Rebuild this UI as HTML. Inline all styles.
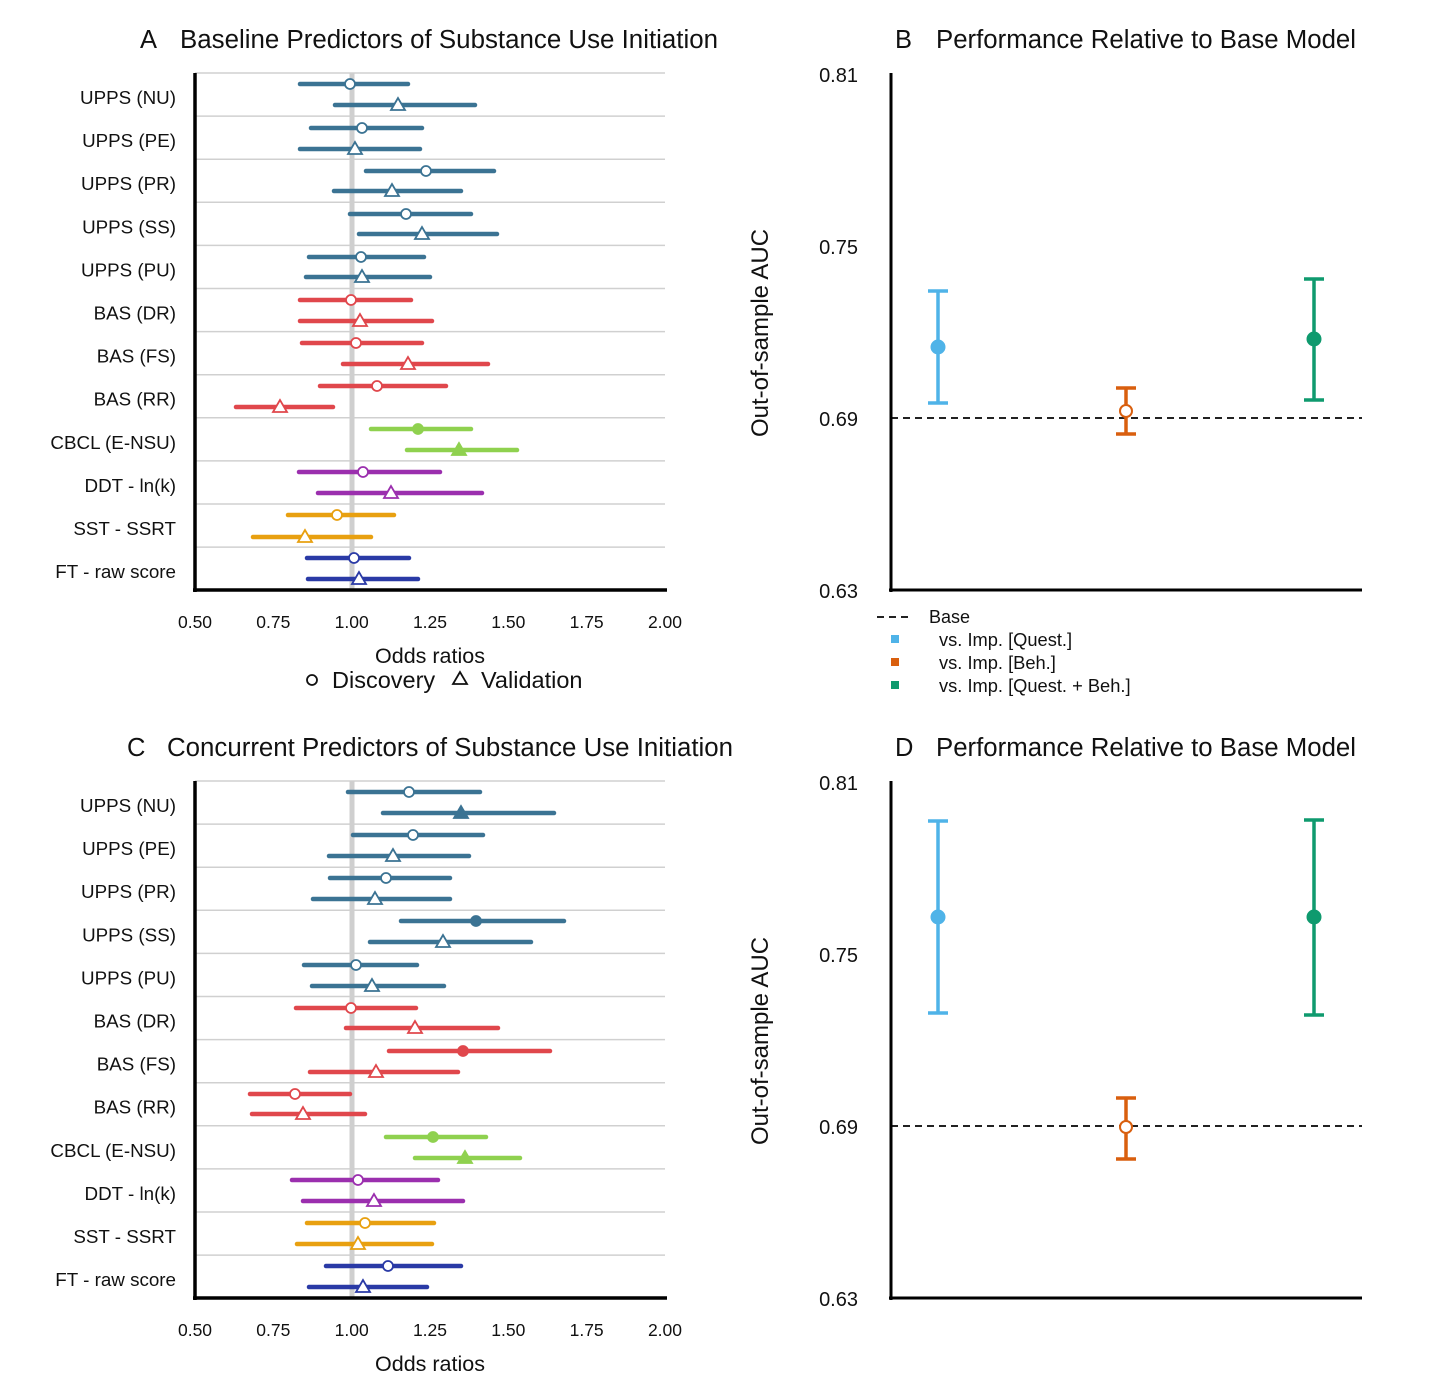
<!DOCTYPE html>
<html><head><meta charset="utf-8"><style>
body{margin:0;background:#fff;}
svg{display:block;font-family:"Liberation Sans",Arial,sans-serif;}
</style></head><body>
<svg width="1446" height="1384" viewBox="0 0 1446 1384" xmlns="http://www.w3.org/2000/svg">
<rect width="1446" height="1384" fill="#fff"/>
<script>
(function(){
const NS="http://www.w3.org/2000/svg";
const svg=document.querySelector('svg');
function el(t,a,txt){const e=document.createElementNS(NS,t);for(const k in a)e.setAttribute(k,a[k]);if(txt!==undefined)e.textContent=txt;svg.appendChild(e);return e;}
const C={u:"#3b7393",r:"#e0474c",g:"#8fd14f",p:"#9b2fae",o:"#e8a010",b:"#2a3aa6"};
const labels=["UPPS (NU)","UPPS (PE)","UPPS (PR)","UPPS (SS)","UPPS (PU)","BAS (DR)","BAS (FS)","BAS (RR)","CBCL (E-NSU)","DDT - ln(k)","SST - SSRT","FT - raw score"];
const cols=["u","u","u","u","u","r","r","r","g","p","o","b"];
const A=[[84,300,350,408,0],[105,335,398,475,0],[128,311,362,422,0],[149,300,355,420,0],[171,366,426,494,0],[191,334,392,461,0],[214,350,406,471,0],[234,359,422,497,0],[257,309,361,424,0],[277,306,362,430,0],[300,300,351,411,0],[321,300,360,432,0],[343,302,356,422,0],[364,343,408,488,0],[386,320,377,446,0],[407,236,280,333,0],[429,371,418,471,1],[450,407,459,517,1],[472,299,363,440,0],[493,318,391,482,0],[515,288,337,394,0],[537,253,305,371,0],[558,307,354,409,0],[579,308,359,418,0]];
const Cc=[[792,348,409,480,0],[813,383,461,554,1],[835,353,413,483,0],[856,329,393,469,0],[878,330,386,450,0],[899,313,375,450,0],[921,401,476,564,1],[942,370,443,531,0],[965,304,356,417,0],[986,312,372,444,0],[1008,296,351,416,0],[1028,346,415,498,0],[1051,389,463,550,1],[1072,310,376,458,0],[1094,250,295,350,0],[1114,252,303,365,0],[1137,386,433,486,1],[1158,415,465,520,1],[1180,292,358,438,0],[1201,303,374,463,0],[1223,307,365,434,0],[1244,297,358,432,0],[1266,326,388,461,0],[1287,309,363,427,0]];
function forest(oy,data,letter,title,lx,tx,tl){
  el('text',{x:lx,y:oy+48,'font-size':25.5,fill:'#111'},letter);
  el('text',{x:tx,y:oy+48,'font-size':25.5,fill:'#111',textLength:tl,lengthAdjust:'spacingAndGlyphs'},title);
  for(let i=0;i<=12;i++){const y=oy+73+i*43.1;el('line',{x1:195,x2:665,y1:y,y2:y,stroke:'#d0d0d0','stroke-width':1.5});}
  el('line',{x1:352,x2:352,y1:oy+73,y2:oy+590,stroke:'#cfcfcf','stroke-width':5});
  labels.forEach((l,i)=>el('text',{x:176,y:oy+104+i*43.1,'font-size':18.8,'text-anchor':'end',fill:'#111'},l));
  data.forEach((d,i)=>{const c=C[cols[Math.floor(i/2)]];const y=d[0];
    el('line',{x1:d[1],x2:d[3],y1:y,y2:y,stroke:c,'stroke-width':4.5,'stroke-linecap':'round'});
    const f=d[4]?c:'#fff';
    if(i%2==0) el('circle',{cx:d[2],cy:y,r:5,fill:f,stroke:c,'stroke-width':1.8});
    else el('polygon',{points:`${d[2]},${y-7} ${d[2]-7},${y+5} ${d[2]+7},${y+5}`,fill:f,stroke:c,'stroke-width':1.8});
  });
  el('line',{x1:195,x2:195,y1:oy+73,y2:oy+592,stroke:'#000','stroke-width':3.5});
  el('line',{x1:193,x2:667,y1:oy+590,y2:oy+590,stroke:'#000','stroke-width':3.5});
  ["0.50","0.75","1.00","1.25","1.50","1.75","2.00"].forEach((t,i)=>el('text',{x:195+i*78.33,y:oy+628,'font-size':17.5,'text-anchor':'middle',fill:'#111'},t));
  el('text',{x:430,y:oy+663,'font-size':21.5,'text-anchor':'middle',fill:'#111'},'Odds ratios');
}
forest(0,A,"A","Baseline Predictors of Substance Use Initiation",140,180,538);
forest(708,Cc,"C","Concurrent Predictors of Substance Use Initiation",127,167,566);
el('circle',{cx:312,cy:680,r:5,fill:'#fff',stroke:'#111','stroke-width':1.8});
el('text',{x:332,y:688,'font-size':23.5,fill:'#111'},'Discovery');
el('polygon',{points:'460,672 453,684 467,684',fill:'#fff',stroke:'#111','stroke-width':1.8});
el('text',{x:481,y:688,'font-size':23.5,fill:'#111'},'Validation');
function perf(oy,letter,title,pts){
  el('text',{x:895,y:oy+48,'font-size':25.5,fill:'#111'},letter);
  el('text',{x:936,y:oy+48,'font-size':25.5,fill:'#111',textLength:420,lengthAdjust:'spacingAndGlyphs'},title);
  [["0.81",75],["0.75",247],["0.69",419],["0.63",591]].forEach(t=>el('text',{x:858,y:oy+t[1]+7,'font-size':20,'text-anchor':'end',fill:'#111'},t[0]));
  el('text',{x:0,y:0,'font-size':24,'text-anchor':'middle',fill:'#111',transform:`translate(768,${oy+333}) rotate(-90)`},'Out-of-sample AUC');
  el('line',{x1:891,x2:1362,y1:oy+418,y2:oy+418,stroke:'#222','stroke-width':2,'stroke-dasharray':'7,5'});
  pts.forEach(p=>{const [x,t,b,m,c,h]=p;
    el('line',{x1:x,x2:x,y1:oy+t,y2:oy+b,stroke:c,'stroke-width':3.5});
    el('line',{x1:x-10,x2:x+10,y1:oy+t,y2:oy+t,stroke:c,'stroke-width':3.5});
    el('line',{x1:x-10,x2:x+10,y1:oy+b,y2:oy+b,stroke:c,'stroke-width':3.5});
    el('circle',{cx:x,cy:oy+m,r:h?6:6.5,fill:h?'#fff':c,stroke:c,'stroke-width':2});
  });
  el('line',{x1:891,x2:891,y1:oy+73,y2:oy+592,stroke:'#000','stroke-width':3});
  el('line',{x1:889,x2:1362,y1:oy+590,y2:oy+590,stroke:'#000','stroke-width':3});
}
perf(0,"B","Performance Relative to Base Model",[[938,291,403,347,'#4fb3e8',0],[1126,388,434,411,'#d95f0e',1],[1314,279,400,339,'#0f9a6e',0]]);
perf(708,"D","Performance Relative to Base Model",[[938,113,305,209,'#4fb3e8',0],[1126,390,451,419,'#d95f0e',1],[1314,112,307,209,'#0f9a6e',0]]);
el('line',{x1:877,x2:913,y1:617,y2:617,stroke:'#222','stroke-width':2,'stroke-dasharray':'7,5'});
el('text',{x:929,y:623,'font-size':18,fill:'#111'},'Base');
[['#4fb3e8','vs. Imp. [Quest.]',640],['#d95f0e','vs. Imp. [Beh.]',663],['#0f9a6e','vs. Imp. [Quest. + Beh.]',686]].forEach(l=>{
  el('rect',{x:891,y:l[2]-5,width:8,height:8,fill:l[0]});
  el('text',{x:939,y:l[2]+6,'font-size':18.3,fill:'#111'},l[1]);
});
})();
</script>
</svg>
</body></html>
